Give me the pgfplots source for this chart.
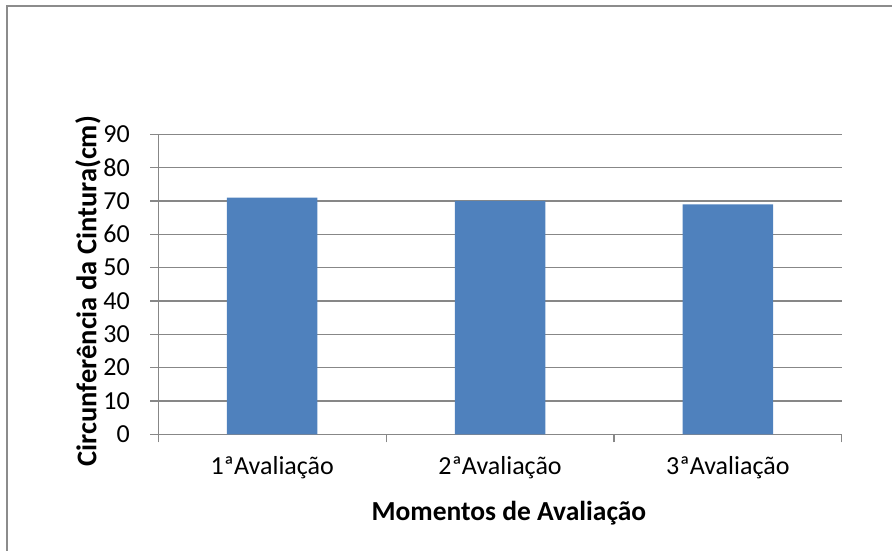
\documentclass[border=0pt]{standalone}
\usepackage{fontspec}
\setmainfont{Carlito}
\usepackage{pgfplots}
\pgfplotsset{compat=1.18}

\definecolor{barblue}{HTML}{4F81BD}
\definecolor{gridgray}{HTML}{878787}
\definecolor{framegray}{HTML}{8C8C8C}

\begin{document}
\begin{tikzpicture}[x=1pt,y=1pt]
  \useasboundingbox (0,0) rectangle (892,550);
  % chart area border (open to the right and bottom)
  \draw[framegray, line width=2pt] (6.5,-20) -- (6.5,543.5) -- (910,543.5);

  \begin{axis}[
    at={(158.3pt,115.7pt)}, anchor=south west,
    scale only axis,
    width=683.4pt, height=300pt,
    xmin=-0.5, xmax=2.5,
    ymin=0, ymax=90,
    ytick={0,10,...,90},
    xtick={-0.5,0.5,1.5,2.5},
    xticklabels={},
    extra x ticks={0,1,2},
    extra x tick labels={1ªAvaliação,2ªAvaliação,3ªAvaliação},
    extra x tick style={major tick length=0pt, grid=none},
    axis x line*=bottom,
    axis y line*=left,
    axis line style={gridgray, line width=1.2pt},
    tick align=outside,
    major tick length=8pt,
    tick style={gridgray, line width=1.2pt},
    ymajorgrids,
    major grid style={gridgray, line width=1.2pt},
    /pgf/number format/assume math mode=true,
    ticklabel style={font=\fontsize{26}{30}\selectfont, text=black},
    yticklabel style={xshift=-17pt},
    xticklabel style={yshift=-19pt},
    xlabel={Momentos de Avaliação},
    ylabel={Circunferência da Cintura(cm)},
    every axis x label/.style={at={(axis description cs:0.513,-0.262)}, anchor=center,
      font=\fontsize{27.5}{32}\selectfont\bfseries},
    every axis y label/.style={at={(axis description cs:-0.1029,0.477)}, rotate=90, anchor=center,
      font=\fontsize{28.5}{32}\selectfont\bfseries},
    ybar, bar width=90.5pt,
    clip=false,
  ]
    \addplot[fill=barblue, draw=none] coordinates {(0,71) (1,70) (2,69)};
  \end{axis}
\end{tikzpicture}
\end{document}
